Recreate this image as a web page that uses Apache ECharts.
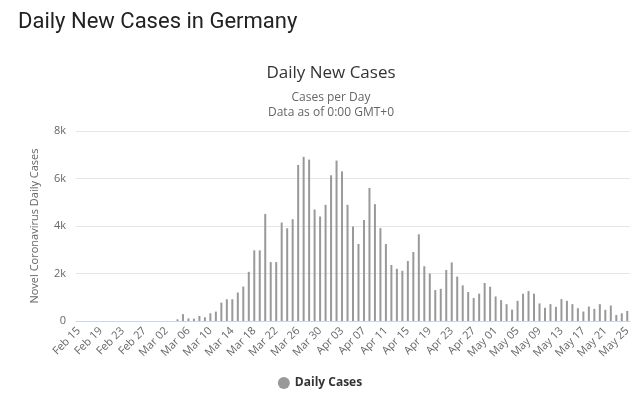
<!DOCTYPE html>
<html>
<head>
<meta charset="utf-8">
<script src="https://cdn.jsdelivr.net/npm/echarts@6/dist/echarts.min.js"></script>
<style>
  html, body { margin: 0; padding: 0; background: #fff; }
  #chart { width: 640px; height: 405px; }
</style>
</head>
<body>
<div id="chart"></div>
<script>
const days = [
  'Feb 15', 'Feb 16', 'Feb 17', 'Feb 18', 'Feb 19', 'Feb 20', 'Feb 21', 'Feb 22', 'Feb 23', 'Feb 24',
  'Feb 25', 'Feb 26', 'Feb 27', 'Feb 28', 'Feb 29', 'Mar 01', 'Mar 02', 'Mar 03', 'Mar 04', 'Mar 05',
  'Mar 06', 'Mar 07', 'Mar 08', 'Mar 09', 'Mar 10', 'Mar 11', 'Mar 12', 'Mar 13', 'Mar 14', 'Mar 15',
  'Mar 16', 'Mar 17', 'Mar 18', 'Mar 19', 'Mar 20', 'Mar 21', 'Mar 22', 'Mar 23', 'Mar 24', 'Mar 25',
  'Mar 26', 'Mar 27', 'Mar 28', 'Mar 29', 'Mar 30', 'Mar 31', 'Apr 01', 'Apr 02', 'Apr 03', 'Apr 04',
  'Apr 05', 'Apr 06', 'Apr 07', 'Apr 08', 'Apr 09', 'Apr 10', 'Apr 11', 'Apr 12', 'Apr 13', 'Apr 14',
  'Apr 15', 'Apr 16', 'Apr 17', 'Apr 18', 'Apr 19', 'Apr 20', 'Apr 21', 'Apr 22', 'Apr 23', 'Apr 24',
  'Apr 25', 'Apr 26', 'Apr 27', 'Apr 28', 'Apr 29', 'Apr 30', 'May 01', 'May 02', 'May 03', 'May 04',
  'May 05', 'May 06', 'May 07', 'May 08', 'May 09', 'May 10', 'May 11', 'May 12', 'May 13', 'May 14',
  'May 15', 'May 16', 'May 17', 'May 18', 'May 19', 'May 20', 'May 21', 'May 22', 'May 23', 'May 24',
  'May 25'
];

const dailyCases = [
  0, 0, 0, 0, 0, 0, 0, 0, 0, 0,
  0, 0, 0, 0, 0, 0, 0, 0, 70, 290,
  110, 100, 210, 155, 325, 395, 775, 915, 915, 1200,
  1450, 2070, 2975, 2975, 4510, 2480, 2480, 4145, 3905, 4285,
  6570, 6910, 6795, 4695, 4400, 4890, 6135, 6755, 6300, 4890,
  3975, 3245, 4250, 5600, 4920, 3910, 3245, 2360, 2200, 2115,
  2525, 2905, 3650, 2305, 2000, 1300, 1355, 2150, 2467, 1870,
  1500, 1220, 965, 1150, 1600, 1445, 1035, 880, 710, 480,
  850, 1150, 1260, 1150, 740, 555, 710, 595, 920, 850,
  710, 540, 400, 610, 510, 710, 470, 650, 255, 325,
  425
];

const yTicks = [0, 2000, 4000, 6000, 8000];

const chart = echarts.init(document.getElementById('chart'));

const option = {
  backgroundColor: '#fff',
  animation: false,
  title: [
    {
      text: 'Daily New Cases in Germany',
      left: 13,
      top: 6,
      textStyle: {
        fontFamily: 'Roboto',
        fontSize: 22,
        fontWeight: 'normal',
        color: '#222'
      }
    },
    {
      text: 'Daily New Cases',
      subtext: 'Cases per Day\nData as of 0:00 GMT+0',
      left: 326,
      textAlign: 'center',
      top: 60,
      itemGap: 8,
      textStyle: {
        fontFamily: 'Open Sans',
        fontSize: 17,
        fontWeight: 'normal',
        color: '#333'
      },
      subtextStyle: {
        fontFamily: 'Open Sans',
        fontSize: 12,
        lineHeight: 15,
        color: '#666'
      }
    }
  ],
  legend: {
    bottom: 11,
    left: 'center',
    icon: 'circle',
    itemWidth: 12,
    itemHeight: 12,
    textStyle: {
      fontFamily: 'Open Sans',
      fontSize: 12,
      fontWeight: 'bold',
      color: '#333'
    },
    data: ['Daily Cases']
  },
  grid: {
    top: 131,
    right: 10,
    bottom: 84,
    left: 76,
    containLabel: false
  },
  xAxis: {
    type: 'category',
    data: days,
    axisLine: {
      lineStyle: { color: '#ccd6eb' }
    },
    axisTick: { show: false },
    axisLabel: {
      interval: 3,
      rotate: 45,
      margin: 8,
      fontFamily: 'Open Sans',
      fontSize: 11,
      color: '#666'
    }
  },
  yAxis: {
    type: 'value',
    min: yTicks[0],
    max: yTicks[yTicks.length - 1],
    interval: 2000,
    name: 'Novel Coronavirus Daily Cases',
    nameLocation: 'middle',
    nameGap: 36,
    nameTextStyle: {
      fontFamily: 'Open Sans',
      fontSize: 11,
      color: '#666'
    },
    axisLabel: {
      margin: 10,
      fontFamily: 'Open Sans',
      fontSize: 11,
      color: '#666',
      formatter: v => (v === 0 ? '0' : v / 1000 + 'k')
    },
    splitLine: {
      lineStyle: { color: '#e6e6e6' }
    }
  },
  series: [
    {
      name: 'Daily Cases',
      type: 'bar',
      data: dailyCases,
      barWidth: 2,
      itemStyle: { color: '#999' }
    }
  ]
};

chart.setOption(option);
</script>
</body>
</html>
